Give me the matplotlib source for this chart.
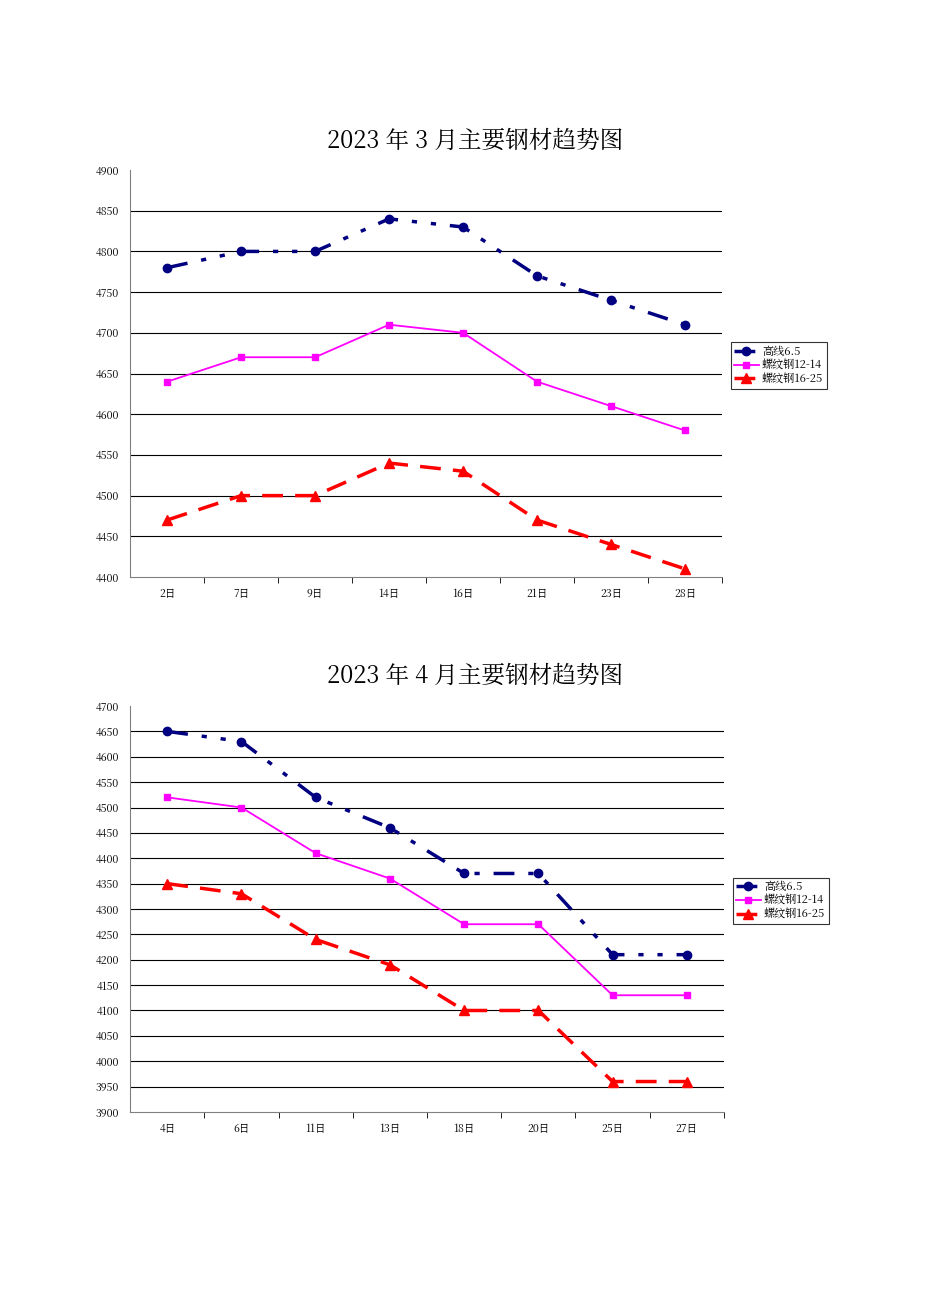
import matplotlib
matplotlib.use("Agg")
import matplotlib.pyplot as plt
from matplotlib import font_manager as fm

cjk_file = None
for f in fm.findSystemFonts():
    if "CJK" in f and ("Regular" in f or cjk_file is None):
        cjk_file = f
        if "Regular" in f:
            break
if cjk_file:
    fm.fontManager.addfont(cjk_file)
    cjk_name = fm.FontProperties(fname=cjk_file).get_name()
    plt.rcParams["font.family"] = [cjk_name, "DejaVu Sans"]

series_names = ["高线6.5", "螺纹钢12-14", "螺纹钢16-25"]

mar_days = ["2日", "7日", "9日", "14日", "16日", "21日", "23日", "28日"]
mar_gx = [4780, 4800, 4800, 4840, 4830, 4770, 4740, 4710]
mar_lw1 = [4640, 4670, 4670, 4710, 4700, 4640, 4610, 4580]
mar_lw2 = [4470, 4500, 4500, 4540, 4530, 4470, 4440, 4410]

apr_days = ["4日", "6日", "11日", "13日", "18日", "20日", "25日", "27日"]
apr_gx = [4650, 4630, 4520, 4460, 4370, 4370, 4210, 4210]
apr_lw1 = [4520, 4500, 4410, 4360, 4270, 4270, 4130, 4130]
apr_lw2 = [4350, 4330, 4240, 4190, 4100, 4100, 3960, 3960]

fig = plt.figure(figsize=(9.5, 12.9), dpi=100)

def panel(rect, title, title_y, days, s1, s2, s3, ymin, ymax, leg_y):
    ax = fig.add_axes(rect)
    x = list(range(len(days)))
    ax.plot(x, s1, color="#000080", lw=2.5, marker="o", ms=6, dashes=[6, 4, 1.5, 4, 1.5, 4], label=series_names[0], zorder=3)
    ax.plot(x, s2, color="#FF00FF", lw=1.3, marker="s", ms=4, label=series_names[1], zorder=3)
    ax.plot(x, s3, color="#FF0000", lw=2.5, marker="^", ms=7, dashes=[6, 3.5], label=series_names[2], zorder=3)
    ax.set_xlim(-0.5, len(days) - 0.5)
    ax.set_ylim(ymin, ymax)
    ticks = list(range(ymin, ymax + 1, 50))
    ax.set_yticks(ticks)
    ax.set_yticklabels([str(t) for t in ticks], fontsize=7.5)
    for t in ticks[1:-1]:
        ax.axhline(t, color="black", lw=0.8, zorder=1)
    ax.set_xticks(x)
    ax.set_xticklabels(days, fontsize=7.5)
    ax.tick_params(axis="x", length=0, pad=8)
    ax.set_xticks([i + 0.5 for i in range(len(days))], minor=True)
    ax.tick_params(axis="x", which="minor", length=4, direction="out")
    ax.tick_params(axis="y", length=0, pad=8)
    ax.spines["top"].set_visible(False)
    ax.spines["right"].set_visible(False)
    ax.spines["left"].set_color("#808080")
    ax.spines["bottom"].set_color("#808080")
    fig.text(0.5, title_y, title, ha="center", va="center", fontsize=17)
    leg = ax.legend(loc="center left", bbox_to_anchor=(1.015, leg_y), fontsize=8, frameon=True,
                    fancybox=False, edgecolor="black", handlelength=2.2, borderpad=0.3,
                    labelspacing=0.15, borderaxespad=0, handletextpad=0.3)
    leg.get_frame().set_linewidth(0.8)
    return ax

panel([0.137, 0.5527, 0.623, 0.3155], "2023 年 3 月主要钢材趋势图", 1 - 141 / 1290,
      mar_days, mar_gx, mar_lw1, mar_lw2, 4400, 4900, 0.52)
panel([0.137, 0.1380, 0.625, 0.3147], "2023 年 4 月主要钢材趋势图", 1 - 676 / 1290,
      apr_days, apr_gx, apr_lw1, apr_lw2, 3900, 4700, 0.52)

fig.savefig("out.png", dpi=100)
